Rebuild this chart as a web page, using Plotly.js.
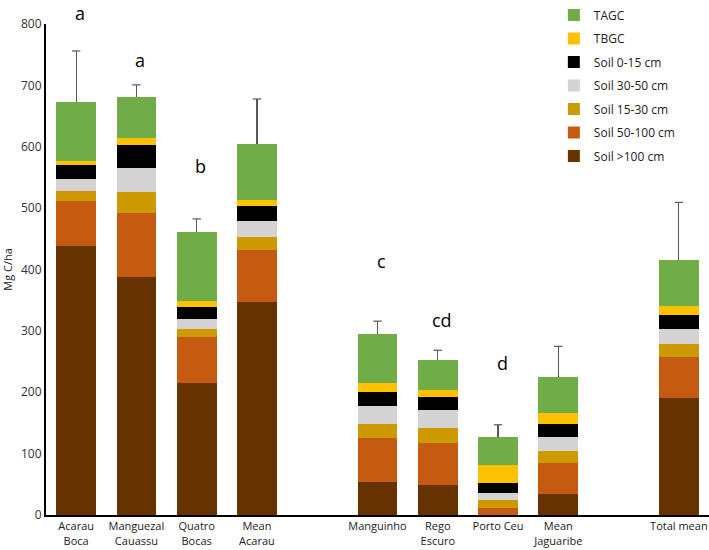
<!DOCTYPE html>
<html>
<head>
<meta charset="utf-8">
<script src="https://cdn.plot.ly/plotly-3.0.1.min.js"></script>
<style>html,body{margin:0;padding:0;background:#fff;}#chart{width:709px;height:550px;}</style>
</head>
<body>
<div id="chart"></div>
<script>
// Category positions (gaps between site groups)
const xPos = [0, 1, 2, 3, 5, 6, 7, 8, 10];
const categories = ["Acarau<br>Boca", "Manguezal<br>Cauassu", "Quatro<br>Bocas", "Mean<br>Acarau",
  "Manguinho", "Rego<br>Escuro", "Porto Ceu", "Mean<br>Jaguaribe", "Total mean"];

// Stacked components (Mg C/ha), bottom to top
const soilOver100 = [438, 387, 214.5, 347, 54.3, 48.3, 0, 34.2, 190.6];
const soil50_100  = [73, 105.4, 75.5, 84.6, 71.1, 69.5, 10.9, 51, 67.2];
const soil15_30   = [17, 33.6, 13, 20.7, 22.8, 23.4, 13.5, 19.5, 20.7];
const soil30_50   = [20, 38.6, 16.7, 26, 28.8, 29.3, 11.9, 22.8, 24.4];
const soil0_15    = [21.5, 39, 18.5, 25.5, 23.3, 21.2, 16.3, 20.7, 22.8];
const tbgc        = [7.5, 10.4, 10.8, 9.2, 15.2, 11.9, 28.3, 18.5, 14.7];
const tagc        = [96, 66.8, 111.4, 91.8, 79.3, 48.8, 46.1, 58.1, 74.9];
const errorPlus   = [83, 20, 22, 73, 21, 16, 20, 50, 94];

// Significance letters
const letters    = ["a", "a", "b", "c", "cd", "d"];
const letterX    = [0, 1, 2, 5, 6, 7];
const letterY    = [818, 741, 568, 414, 318, 248];

const series = [
  {name: "Soil >100 cm", y: soilOver100, color: "#663300"},
  {name: "Soil 50-100 cm", y: soil50_100, color: "#C55A11"},
  {name: "Soil 15-30 cm", y: soil15_30, color: "#CC9900"},
  {name: "Soil 30-50 cm", y: soil30_50, color: "#D4D2D2"},
  {name: "Soil 0-15 cm", y: soil0_15, color: "#000000"},
  {name: "TBGC", y: tbgc, color: "#FFC000"},
  {name: "TAGC", y: tagc, color: "#70AD47"}
];

const traces = series.map((s, i) => {
  const t = {
    type: "bar", x: xPos, y: s.y, name: s.name,
    marker: {color: s.color, line: {width: 0}},
    width: 0.66, legendgroup: "g" + i, legendrank: 100 - i
  };
  if (s.name === "TAGC") {
    t.error_y = {type: "data", symmetric: false, array: errorPlus,
      arrayminus: errorPlus.map(() => 0), color: "#595959", thickness: 1.2, width: 0};
  }
  return t;
});

// caps on top of the error bars
const totals = xPos.map((_, j) => series.reduce((acc, s) => acc + s.y[j], 0));
traces.push({
  type: "scatter", mode: "markers", x: xPos, y: totals.map((t, j) => t + errorPlus[j]),
  marker: {symbol: "line-ew", size: 6, line: {color: "#595959", width: 1.2}},
  showlegend: false, hoverinfo: "skip", cliponaxis: false
});

const annotations = letters.map((l, i) => ({
  x: letterX[i], y: letterY[i] / 800, xref: "x", yref: "paper", text: l, showarrow: false,
  yanchor: "middle", xanchor: "center", xshift: 4,
  font: {family: "Open Sans, Noto Sans, sans-serif", size: 18, color: "#000"}
}));

const layout = {
  width: 709, height: 550,
  margin: {l: 46, r: 0, t: 24, b: 35},
  barmode: "stack",
  paper_bgcolor: "#fff", plot_bgcolor: "#fff",
  font: {family: "Open Sans, Noto Sans, sans-serif", size: 12, color: "#222"},
  xaxis: {
    range: [-0.5, 10.5], tickvals: xPos, ticktext: categories,
    showline: true, linecolor: "#000", linewidth: 2, ticks: "", showgrid: false,
    zeroline: false, tickfont: {size: 11, color: "#222"}, tickangle: 0,
    ticklabeloverflow: "allow"
  },
  yaxis: {
    range: [0, 800], dtick: 100, showline: true, linecolor: "#000", linewidth: 2,
    ticks: "", showgrid: false, zeroline: false, tickfont: {size: 12, color: "#333"},
    title: {text: "Mg C/ha", font: {size: 11, color: "#222"}, standoff: 8}
  },
  legend: {
    x: 0.766, y: 1.048, xanchor: "left", yanchor: "top",
    traceorder: "grouped", tracegroupgap: 4.5,
    font: {size: 12, color: "#222"}, bgcolor: "rgba(255,255,255,0)",
    itemwidth: 30
  },
  annotations: annotations,
  showlegend: true
};

Plotly.newPlot("chart", traces, layout, {displayModeBar: false, staticPlot: true});
</script>
</body>
</html>
